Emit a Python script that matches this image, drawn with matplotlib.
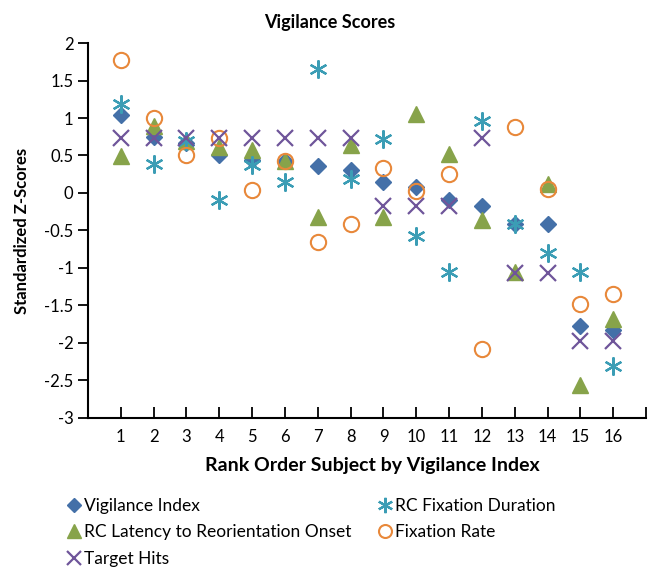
"""
    Vigilance scores scatter chart
"""

import numpy as np
import matplotlib.pyplot as plt

plt.rcParams['font.family'] = ['Lato', 'DejaVu Sans']

subjects = np.arange(1, 17)

vigilance_index = [1.04, 0.75, 0.67, 0.50, 0.44, 0.43, 0.36, 0.30,
                   0.14, 0.08, -0.10, -0.18, -0.41, -0.42, -1.77, -1.83]
rc_latency = [0.49, 0.90, 0.70, 0.62, 0.57, 0.42, -0.32, 0.64,
              -0.32, 1.05, 0.52, -0.36, -1.05, 0.12, -2.56, -1.68]
rc_fix_duration = [1.19, 0.39, 0.70, -0.09, 0.37, 0.15, 1.66, 0.19,
                   0.72, -0.58, -1.05, 0.96, -0.41, -0.80, -1.06, -2.31]
fixation_rate = [1.77, 1.00, 0.51, 0.73, 0.04, 0.42, -0.65, -0.42,
                 0.33, 0.02, 0.25, -2.08, 0.88, 0.05, -1.48, -1.35]
target_hits = [0.73, 0.73, 0.73, 0.73, 0.73, 0.73, 0.73, 0.73,
               -0.17, -0.17, -0.17, 0.73, -1.07, -1.07, -1.98, -1.98]

fontsize = 12

fig = plt.figure(figsize=(6.59, 5.74), dpi=100)
ax = fig.add_axes([0.1335, 0.272, 0.847, 0.653])

h_vi, = ax.plot(subjects, vigilance_index, 'D', color='#4470A8', ms=8.5,
                mec='#4470A8', label='Vigilance Index')
h_rl, = ax.plot(subjects, rc_latency, '^', color='#87A34A', ms=12,
                mec='#87A34A', label='RC Latency to Reorientation Onset')
h_fd, = ax.plot(subjects, rc_fix_duration, marker=(6, 2, 0), ls='none',
                color='#3B9DB5', ms=13, mew=1.6, label='RC Fixation Duration')
h_fr, = ax.plot(subjects, fixation_rate, 'o', mfc='none', mec='#E8883A',
                ms=11, mew=1.5, label='Fixation Rate')
h_th, = ax.plot(subjects, target_hits, 'x', color='#6F559A', ms=11.5,
                mew=1.6, label='Target Hits')

# category axis: ticks between 0 and 17, labels only for subjects
ax.set_xlim(0, 17)
ax.set_xticks(np.arange(0, 18))
ax.set_xticklabels([''] + [str(s) for s in subjects] + [''])
ax.tick_params(axis='x', direction='in', length=8, width=1.3,
               labelsize=fontsize, pad=8)
ax.set_yticks(np.arange(-3, 2.01, 0.5))
ax.set_yticklabels(['-3', '-2.5', '-2', '-1.5', '-1', '-0.5', '0',
                    '0.5', '1', '1.5', '2'])
ax.tick_params(axis='y', direction='out', length=7, width=1.3,
               labelsize=fontsize)

ax.spines['top'].set_visible(False)
ax.spines['right'].set_visible(False)
ax.spines['left'].set_linewidth(1.5)
ax.spines['bottom'].set_linewidth(1.5)

ax.set_title('Vigilance Scores', fontsize=13, weight='bold', pad=11, x=0.433)
ax.set_xlabel('Rank Order Subject by Vigilance Index', fontsize=14,
              weight='bold', labelpad=9, x=0.509)
ax.set_ylabel('Standardized Z-Scores', fontsize=12, weight='bold',
              labelpad=10)

fig.legend(handles=[h_vi, h_rl, h_th, h_fd, h_fr], ncol=2,
           loc='upper left', bbox_to_anchor=(0.078, 0.16), frameon=False,
           fontsize=12.5, handlelength=0.8, handletextpad=0.2,
           columnspacing=1.5, labelspacing=0.6, markerscale=0.85)

fig.savefig('out.png', dpi=100)
